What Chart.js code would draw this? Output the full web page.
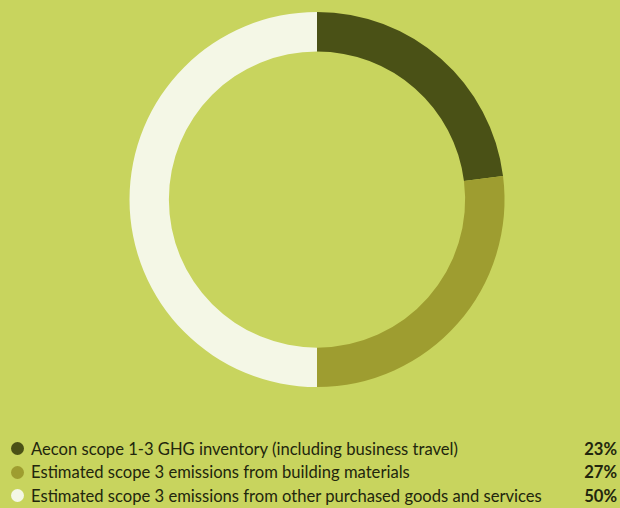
<!DOCTYPE html>
<html>
<head>
<meta charset="utf-8">
<script src="https://cdn.jsdelivr.net/npm/chart.js@4"></script>
<style>
  html, body { margin: 0; padding: 0; background: #c8d45e; }
  #wrap { position: relative; width: 620px; height: 508px; overflow: hidden; }
  #chartBox { position: absolute; left: 0; top: 0; width: 620px; height: 400px; }
  #legend { position: absolute; left: 11px; top: 437px; width: 606px;
    font-family: "Lato", sans-serif; font-size: 16.6px; color: #22260d; }
  .row { display: flex; align-items: center; height: 23.5px; }
  .dot { width: 13px; height: 13px; border-radius: 50%; margin-right: 7px; flex: none; }
  .lbl { flex: 1; }
  .pct { font-weight: bold; }
</style>
</head>
<body>
<div id="wrap">
  <div id="chartBox"><canvas id="myChart"></canvas></div>
  <div id="legend"></div>
</div>
<script>
var labels = [
  "Aecon scope 1-3 GHG inventory (including business travel)",
  "Estimated scope 3 emissions from building materials",
  "Estimated scope 3 emissions from other purchased goods and services"
];
var values = [23, 27, 50];
var colors = ["#4a5116", "#9e9d30", "#f4f7e6"];

var ctx = document.getElementById("myChart").getContext("2d");
var chart = new Chart(ctx, {
  type: "doughnut",
  data: {
    labels: labels,
    datasets: [
      {
        data: values,
        backgroundColor: colors,
        borderWidth: 0,
      },
    ],
  },
  options: {
    responsive: true,
    maintainAspectRatio: false,
    animation: false,
    cutout: "79%",
    layout: { padding: { left: 14, top: 12, bottom: 13, right: 0 } },
    plugins: {
      legend: { display: false },
      tooltip: { enabled: false },
    },
  },
});

// legend built from the same arrays
var legend = document.getElementById("legend");
labels.forEach(function (label, i) {
  var row = document.createElement("div");
  row.className = "row";
  row.innerHTML =
    '<span class="dot" style="background:' + colors[i] + '"></span>' +
    '<span class="lbl">' + label + '</span>' +
    '<span class="pct">' + values[i] + '%</span>';
  legend.appendChild(row);
});
</script>
</body>
</html>
